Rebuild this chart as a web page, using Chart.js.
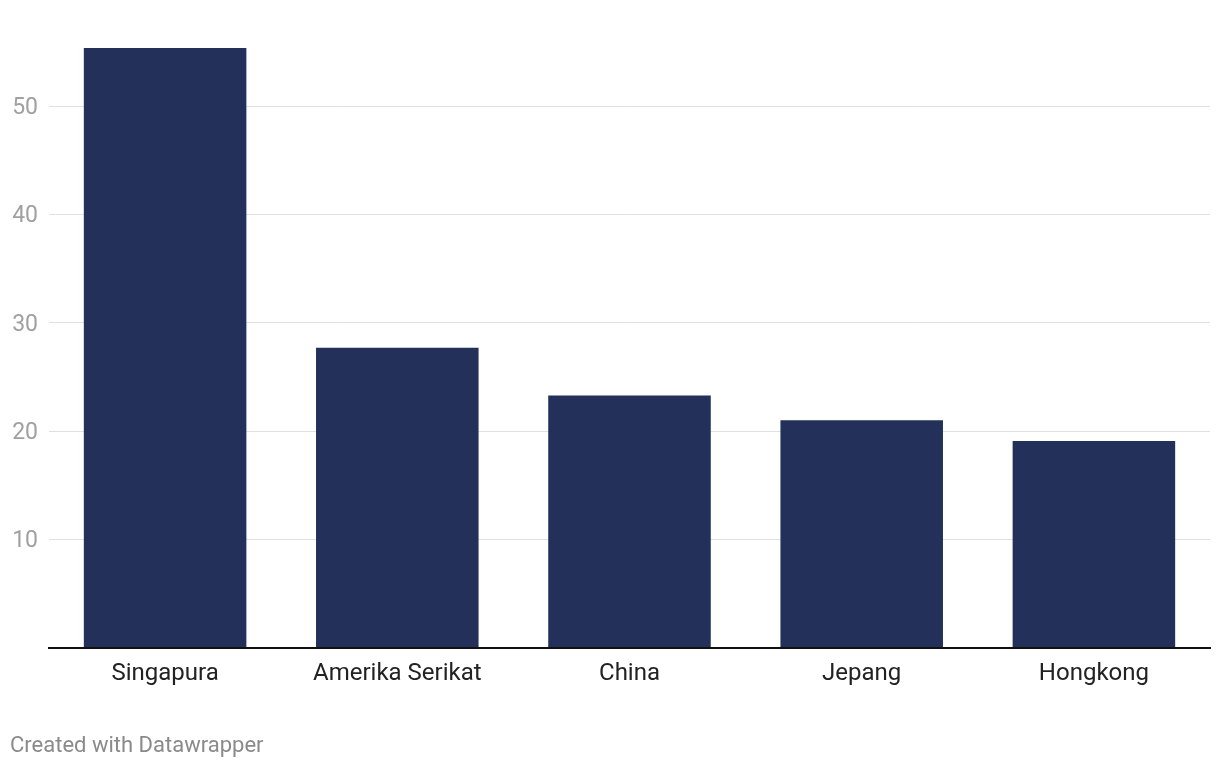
<!DOCTYPE html>
<html>
<head>
<meta charset="utf-8">
<script src="https://cdn.jsdelivr.net/npm/chart.js@4/dist/chart.umd.min.js"></script>
<style>
  html, body { margin: 0; padding: 0; background: #fff; }
  #wrap { width: 1220px; height: 768px; position: relative; }
</style>
</head>
<body>
<div id="wrap"><canvas id="c" width="1220" height="768"></canvas></div>
<script>
const categories = ["Singapura", "Amerika Serikat", "China", "Jepang", "Hongkong"];
const values = [55.4, 27.7, 23.3, 21.0, 19.1];
const yTicks = [0, 10, 20, 30, 40, 50];
const footer = "Created with Datawrapper";

const FONT = "Roboto";

new Chart(document.getElementById('c'), {
  type: 'bar',
  data: {
    labels: categories,
    datasets: [{
      data: values,
      backgroundColor: '#22305a',
      borderWidth: 0,
      barPercentage: 0.7,
      categoryPercentage: 1.0
    }]
  },
  options: {
    responsive: false,
    animation: false,
    devicePixelRatio: 1,
    layout: { padding: { left: 10, right: 10, top: 48, bottom: 0 } },
    plugins: {
      legend: { display: false },
      tooltip: { enabled: false },
      title: {
        display: true,
        text: footer,
        position: 'bottom',
        align: 'start',
        color: '#8a8a8a',
        font: { family: FONT, size: 22, weight: 'normal' },
        padding: { top: 24, bottom: 8 }
      }
    },
    scales: {
      x: {
        grid: { display: false, drawTicks: false },
        border: { display: true, color: '#111', width: 2 },
        ticks: {
          color: '#222',
          font: { family: FONT, size: 24 },
          padding: 12,
          maxRotation: 0
        },
        afterFit: (s) => { s.height = 62; }
      },
      y: {
        min: 0,
        max: 55.4,
        afterBuildTicks: (s) => { s.ticks = yTicks.map(v => ({ value: v })); },
        grid: {
          drawTicks: false,
          color: (ctx) => ctx.tick && ctx.tick.value === 0 ? 'rgba(0,0,0,0)' : '#e0e0e0',
          lineWidth: 1
        },
        border: { display: false },
        ticks: {
          color: '#a0a0a0',
          font: { family: FONT, size: 23 },
          padding: 11,
          labelOffset: 2,
          callback: (v) => v === 0 ? '' : String(v)
        },
        afterFit: (s) => { s.width = 39; }
      }
    }
  }
});
</script>
</body>
</html>
